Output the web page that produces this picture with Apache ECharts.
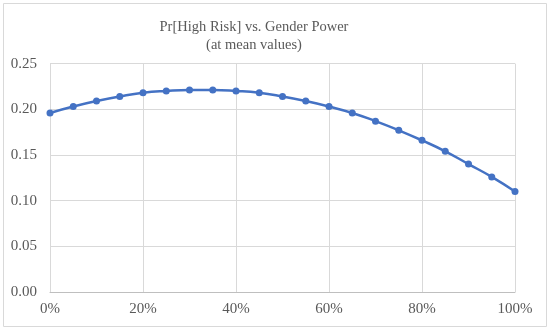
<!DOCTYPE html>
<html><head><meta charset="utf-8">
<script src="https://cdn.jsdelivr.net/npm/echarts@6/dist/echarts.min.js"></script>
<style>html,body{margin:0;padding:0;background:#fff}#c{width:550px;height:330px}</style>
</head><body><div id="c"></div>
<script>
const genderPower = [0,5,10,15,20,25,30,35,40,45,50,55,60,65,70,75,80,85,90,95,100];
const prHighRisk = [0.196,0.203,0.209,0.214,0.218,0.220,0.221,0.221,0.220,0.218,0.214,0.209,0.203,0.196,0.187,0.177,0.166,0.154,0.140,0.126,0.110];
const titleLines = ['Pr[High Risk] vs. Gender Power','(at mean values)'];

const chart = echarts.init(document.getElementById('c'));
const font = '"Liberation Serif","Times New Roman",serif';
chart.setOption({
  animation:false,
  graphic:[{type:'rect',shape:{x:3.5,y:3.5,width:543,height:323},style:{fill:'none',stroke:'#d9d9d9',lineWidth:1}}],
  title:{text:titleLines.join('\n'),left:249,top:13,textAlign:'center',
    textStyle:{fontFamily:font,fontSize:14.5,fontWeight:'normal',color:'#595959',lineHeight:18}},
  grid:{left:50,right:35,top:63.6,bottom:38,containLabel:false},
  xAxis:{type:'value',min:0,max:100,interval:20,
    axisLine:{show:true,lineStyle:{color:'#bfbfbf'}},axisTick:{show:false},
    splitLine:{show:true,lineStyle:{color:'#d9d9d9'}},
    axisLabel:{formatter:'{value}%',fontFamily:font,fontSize:15,color:'#595959',margin:10}},
  yAxis:{type:'value',min:0,max:0.25,interval:0.05,
    axisLine:{show:false},axisTick:{show:false},
    splitLine:{show:true,lineStyle:{color:'#d9d9d9'}},
    axisLabel:{formatter:v=>v.toFixed(2),fontFamily:font,fontSize:15,color:'#595959',margin:13}},
  series:[{type:'line',data:genderPower.map((x,i)=>[x,prHighRisk[i]]),smooth:true,
    symbol:'circle',symbolSize:7,lineStyle:{color:'#4472C4',width:2.5},itemStyle:{color:'#4472C4'}}]
});
</script></body></html>
